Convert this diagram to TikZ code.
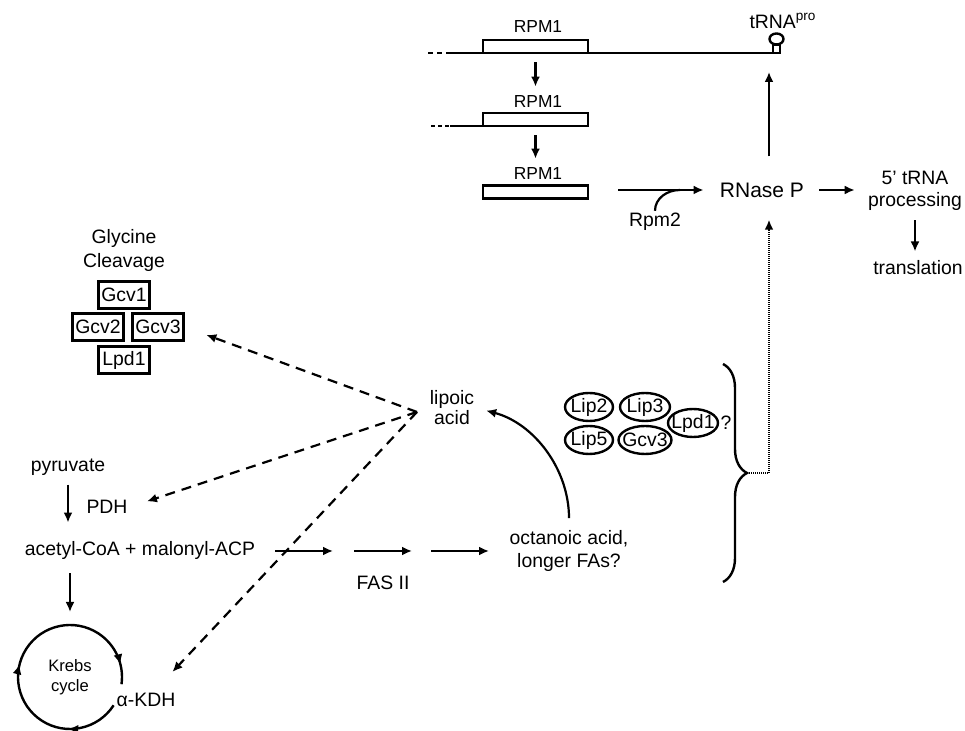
\documentclass[tikz,border=0pt]{standalone}
\usepackage{fontspec}
\setmainfont{Liberation Sans}
\usepackage{tikz}
\usetikzlibrary{arrows.meta,positioning,calc,decorations.markings,decorations.pathreplacing}

\begin{document}
\begin{tikzpicture}[x=0.5pt, y=0.5pt,
    every node/.style={font=\fontsize{9.7}{11.5}\selectfont, inner sep=1pt},
    arr/.style={-{Latex[length=5pt,width=4.5pt]}, line width=1.1pt},
    dasharr/.style={arr, dash pattern=on 5pt off 3.5pt},
    dotarr/.style={arr, line width=1.1pt, dash pattern=on 0.5pt off 0.5pt},
    genebox/.style={draw, fill=white, line width=1.2pt, minimum width=52.5pt, minimum height=6.5pt, inner sep=0pt},
    gcvbox/.style={draw, line width=1.2pt, minimum width=25.5pt, minimum height=13.5pt, inner sep=0pt}]
    \useasboundingbox (0,0) rectangle (965,-731);

    % RPM1 locus and transcripts
    \draw[line width=1.2pt, dash pattern=on 2.5pt off 2pt] (428,-53) -- (446,-53);
    \draw[line width=1.2pt] (446,-53) -- (780,-53);
    \draw[line width=1.2pt, dash pattern=on 2pt off 1.5pt] (431,-126) -- (450,-126);
    \draw[line width=1.2pt] (450,-126) -- (484,-126);
    \node[genebox] (box1) at (535.5,-46.5) {};
    \node[genebox] (box2) at (535.5,-119.5) {};
    \node[genebox] (box3) at (535.5,-192) {};
    \foreach \n/\y in {1/27, 2/102, 3/174}
        \node[font=\fontsize{8.7}{10}\selectfont] (rpm\n) at (538,-\y) {RPM1};
    \draw[arr, shorten <=4pt, shorten >=3.5pt] (box1.south) -- (rpm2.north -| box1.south);
    \draw[arr, shorten <=4pt, shorten >=3.5pt] (box2.south) -- (rpm3.north -| box2.south);

    % tRNA at the end of the locus
    \draw[line width=1pt] (773,-53) rectangle (780,-45);
    \draw[line width=1.2pt] (776.5,-39) ellipse [x radius=7, y radius=5.5];
    \coordinate (trna) at (769,-72);
    \node at (783,-21) {tRNA\textsuperscript{pro}};

    % RNase P
    \node[font=\fontsize{10.5}{12}\selectfont] (rnase) at (762,-190) {RNase P};
    \node (rpm2) at (655,-222) {Rpm2};
    \coordinate (rjoin) at (680,-190);
    \draw[arr, shorten <=14.5pt, shorten >=7pt] (box3.east |- rnase.west) -- (rnase.west);
    \draw[line width=1.1pt] (rpm2.north) to[out=90, in=180] (rjoin);
    \draw[arr, shorten <=12pt] (rnase.north -| trna) -- (trna);

    % tRNA processing
    \node[align=center, font=\fontsize{9.7}{11}\selectfont] (proc) at (915,-191) {5’ tRNA\\processing};
    \node (transl) at (918,-268) {translation};
    \draw[arr, shorten <=6.5pt, shorten >=5.5pt] (rnase.east) -- (proc.west |- rnase.east);
    \draw[arr, shorten <=3.5pt, shorten >=3.5pt] (proc.south) -- (proc.south |- transl.north);

    % Glycine cleavage
    \node[align=center, font=\fontsize{9.7}{12}\selectfont] (gly) at (124,-250) {Glycine\\Cleavage};
    \node[gcvbox] (gcv1) at (124,-295) {Gcv1};
    \node[gcvbox] (gcv2) at (98,-327) {Gcv2};
    \node[gcvbox] (gcv3) at (158,-327) {Gcv3};
    \node[gcvbox] (lpd1) at (124,-360) {Lpd1};

    % Lipoic acid synthesis
    \node[align=center, font=\fontsize{9.7}{10}\selectfont] (lipoic) at (452,-408) {lipoic\\acid};
    \foreach \n/\x/\y/\r/\lab in {lip2/589/407/24/Lip2, lip3/645/407/25/Lip3, lpdx/693/423/25/Lpd1,
                                  lip5/589/440/24/Lip5, gcvx/645/440/26.5/Gcv3} {
        \node (\n) at (\x,-\y) {\lab};
        \draw[line width=1.2pt] (\n) ellipse [x radius=\r, y radius=14];
    }
    \node (q) at (726,-423) {?};
    \draw[line width=1.2pt, decorate, decoration={brace, amplitude=12pt}] (723,-364) -- (723,-582);
    \coordinate (bt) at (747,-473);
    \draw[dotarr, shorten >=10pt] (bt) -| (rnase.south -| trna);

    % Central metabolism
    \node (pyr) at (68,-467) {pyruvate};
    \node (pdh) at (107,-507) {PDH};
    \node (acet) at (140,-550) {acetyl-CoA + malonyl-ACP};
    \draw[arr, shorten <=3.5pt, shorten >=8pt] (pyr.south) -- (pyr.south |- acet.north);

    % FAS II
    \foreach \i/\a/\b in {1/275/333, 2/354/412, 3/431/489} {
        \coordinate (fs\i) at (\a,-551);
        \coordinate (fe\i) at (\b,-551);
        \draw[arr] (fs\i) -- (fe\i);
    }
    \node (fas) at (383,-583) {FAS II};
    \node[align=center, font=\fontsize{9.7}{11.5}\selectfont] (oct) at (569,-551) {octanoic acid,\\longer FAs?};
    \draw[arr, shorten <=5pt, shorten >=5pt] (oct.north) to[out=90, in=-15] (lipoic.east);

    % Krebs cycle
    \coordinate (kc) at (70,-677);
    \coordinate (kctop) at (70,-625);
    \draw[arr, shorten <=6pt, shorten >=6.5pt] (acet.south -| kctop) -- (kctop);
    \draw[line width=1.2pt, postaction=decorate, decoration={markings,
        mark=at position 0.176 with {\arrow{Latex[length=5pt,width=4.5pt]}},
        mark=at position 0.481 with {\arrow{Latex[length=5pt,width=4.5pt]}},
        mark=at position 0.934 with {\arrow{Latex[length=5pt,width=4.5pt]}}}]
        (kc) ++(-33:52) arc[start angle=-33, end angle=-368, radius=52];
    \node[align=center, font=\fontsize{8.3}{10}\selectfont] (krebs) at (kc) {Krebs\\cycle};
    \node (akdh) at (146,-700) {α-KDH};

    % Lipoylated targets
    \coordinate (lsrc) at (417,-412);
    \draw[dasharr, shorten >=11.5pt] (lsrc) -- (gcv3.east);
    \draw[dasharr, shorten >=9pt] (lsrc) -- (pdh.east);
    \draw[dasharr, shorten >=13pt] (lsrc) -- (akdh);
\end{tikzpicture}
\end{document}
